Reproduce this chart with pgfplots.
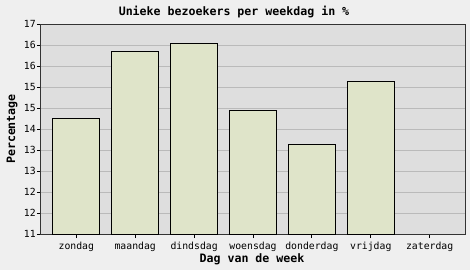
\documentclass[border=0pt]{standalone}
\usepackage{fontspec}
\setmainfont{DejaVu Sans Mono}
\usepackage{pgfplots}
\pgfplotsset{compat=1.18}
\usetikzlibrary{backgrounds}
\definecolor{bgout}{HTML}{EFEFEF}
\definecolor{plotbg}{HTML}{DEDEDE}
\definecolor{barfill}{HTML}{DFE4C9}
\definecolor{gridc}{HTML}{BABABA}
\begin{document}
\begin{tikzpicture}
\begin{axis}[
 scale only axis, width=424bp, height=210bp,
 xmin=-0.6, xmax=6.6, ymin=11, ymax=17,
 axis background/.style={fill=plotbg},
 ybar, bar width=47bp, bar shift=0pt,
 xtick={0,...,6},
 xticklabels={zondag,maandag,dindsdag,woensdag,donderdag,vrijdag,zaterdag},
 ytick={11,11.6,12.2,12.8,13.4,14,14.6,15.2,15.8,16.4,17},
 yticklabels={11,12,12,13,13,14,15,15,16,16,17},
 xtick pos=bottom, ytick pos=left,
 ymajorgrids, grid style={gridc, line width=1bp},
 tick align=outside, major tick length=4bp,
 tick style={black, line width=0.8bp},
 axis line style={black!80, line width=1bp},
 xticklabel style={font=\fontsize{9.8bp}{11bp}\selectfont, inner sep=1bp, yshift=-3bp},
 yticklabel style={font=\fontsize{9.8bp}{11bp}\selectfont, inner sep=1bp},
 /pgf/number format/assume math mode=true,
]
\addplot[fill=barfill, draw=black, line width=1bp] coordinates {
 (0,14.31) (1,16.22) (2,16.45) (3,14.53) (4,13.56) (5,15.36)
};
\coordinate (O) at (rel axis cs:0,0);
\end{axis}
\begin{scope}[shift={(O)}, x=1bp, y=1bp]
\begin{pgfonlayer}{background}
\fill[bgout] (-41,-36) rectangle (429,234);
\end{pgfonlayer}
\node[font=\fontsize{11.6bp}{13bp}\selectfont\bfseries] at (193,222) {Unieke bezoekers per weekdag in \%};
\node[font=\fontsize{11.6bp}{13bp}\selectfont\bfseries] at (211,-25) {Dag van de week};
\node[font=\fontsize{11.6bp}{13bp}\selectfont\bfseries, rotate=90] at (-29,105) {Percentage};
\pgfresetboundingbox
\useasboundingbox (-41,-36) rectangle (429,234);
\end{scope}
\end{tikzpicture}
\end{document}
